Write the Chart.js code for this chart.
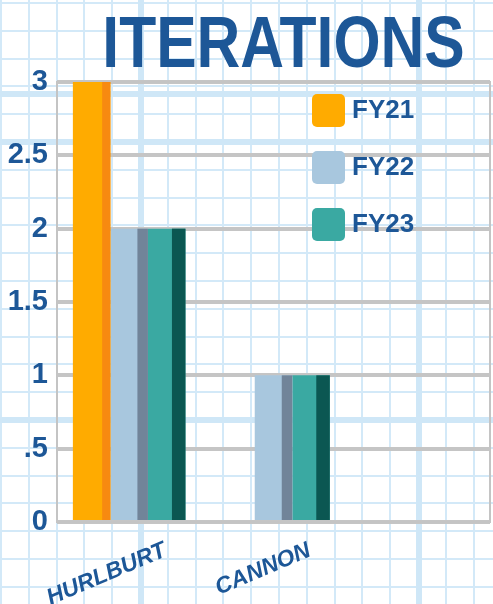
<!DOCTYPE html>
<html>
<head>
<meta charset="utf-8">
<script src="https://cdn.jsdelivr.net/npm/chart.js@4.4.1/dist/chart.umd.min.js"></script>
<style>
  html, body { margin: 0; padding: 0; }
  body {
    width: 493px; height: 604px; overflow: hidden;
    background-color: #fff;
    /* graph paper */
    background-image:
      repeating-linear-gradient(to right, #cfe7f7 0 6px, transparent 6px 278px),
      repeating-linear-gradient(to bottom, #cfe7f7 0 6px, transparent 6px 278px),
      repeating-linear-gradient(to right, #d3e9f8 0 2px, transparent 2px 27.8px),
      repeating-linear-gradient(to bottom, #d3e9f8 0 2px, transparent 2px 27.8px);
    background-position: 138px 0, 0 139px, 0 0, 0 2px;
  }
  #wrap { position: relative; width: 493px; height: 604px; }
</style>
</head>
<body>
<div id="wrap"><canvas id="chartJSContainer"></canvas></div>
<script>
var titleText = "ITERATIONS";
var categories = ["HURLBURT", "CANNON"];
var seriesNames = ["FY21", "FY22", "FY23"];
var fy21 = [3, 0];
var fy22 = [2, 1];
var fy23 = [2, 1];
var yTickLabels = ["0", ".5", "1", "1.5", "2", "2.5", "3"];

var textBlue = "#1d5797";

// darker right-hand strip on each bar (the pseudo 3D look)
var barShade = {
  id: "barShade",
  afterDatasetDraw: function (chart, args) {
    var ds = chart.data.datasets[args.index];
    var ctx = chart.ctx;
    ctx.save();
    ctx.fillStyle = ds.shadeColor;
    args.meta.data.forEach(function (bar) {
      var p = bar.getProps(["x", "y", "base", "width"], true);
      var w = p.width * ds.shadeFrac;
      ctx.fillRect(p.x + p.width / 2 - w, p.y, w, p.base - p.y);
    });
    ctx.restore();
  }
};

// light frame round the plot
var frame = {
  id: "frame",
  beforeDatasetsDraw: function (chart) {
    var a = chart.chartArea, ctx = chart.ctx;
    ctx.save();
    ctx.strokeStyle = "#c4c4c4";
    ctx.lineWidth = 2;
    ctx.strokeRect(a.left, a.top, a.right - a.left, a.bottom - a.top);
    ctx.restore();
  }
};

// condensed headline (no narrow font installed, so squeeze it)
var headline = {
  id: "headline",
  afterDraw: function (chart) {
    var a = chart.chartArea, ctx = chart.ctx;
    ctx.save();
    ctx.translate((a.left + a.right) / 2 + 10, a.top - 15);
    ctx.scale(0.83, 1);
    ctx.fillStyle = textBlue;
    ctx.font = "bold 73px 'Liberation Sans', Arial, sans-serif";
    ctx.textAlign = "center";
    ctx.textBaseline = "alphabetic";
    ctx.fillText(titleText, 0, 0);
    ctx.restore();
  }
};

// legend sits inside the plot, top right
var insideLegend = {
  id: "insideLegend",
  afterDraw: function (chart) {
    var a = chart.chartArea, ctx = chart.ctx;
    var x0 = a.left + 255, y0 = a.top + 28;
    ctx.save();
    chart.data.datasets.forEach(function (ds, i) {
      var y = y0 + i * 57;
      ctx.fillStyle = ds.backgroundColor;
      ctx.beginPath();
      ctx.roundRect(x0, y - 16, 33, 33, 5);
      ctx.fill();
      ctx.fillStyle = textBlue;
      ctx.font = "bold 26px 'Liberation Sans', Arial, sans-serif";
      ctx.textBaseline = "middle";
      ctx.textAlign = "left";
      ctx.fillText(ds.label, x0 + 40, y + 1);
    });
    ctx.restore();
  }
};

var options = {
  type: "bar",
  data: {
    labels: categories.concat([""]),
    datasets: [
      { label: seriesNames[0], data: fy21, backgroundColor: "#ffab00", shadeColor: "#f78a10", shadeFrac: 0.22 },
      { label: seriesNames[1], data: fy22, backgroundColor: "#a8c7de", shadeColor: "#718499", shadeFrac: 0.28 },
      { label: seriesNames[2], data: fy23, backgroundColor: "#3aa9a2", shadeColor: "#0b5752", shadeFrac: 0.36 }
    ]
  },
  options: {
    responsive: true,
    maintainAspectRatio: false,
    animation: false,
    categoryPercentage: 0.78,
    barPercentage: 1,
    layout: { padding: { left: 0, right: 3, top: 82, bottom: 0 } },
    plugins: {
      legend: { display: false },
      tooltip: { enabled: false },
      title: { display: false }
    },
    scales: {
      x: {
        grid: { display: false, drawTicks: false },
        border: { display: false },
        afterFit: function (s) { s.height = 82; s.paddingLeft = 0; s.paddingRight = 0; },
        ticks: {
          autoSkip: false,
          minRotation: 23,
          maxRotation: 23,
          labelOffset: 36,
          padding: 15,
          color: textBlue,
          font: { family: "'Liberation Sans', Arial, sans-serif", size: 23, weight: "bold", style: "italic" }
        }
      },
      y: {
        min: 0,
        max: 3,
        grid: { color: "#c5c5c5", lineWidth: 4, drawTicks: false },
        border: { display: false },
        afterFit: function (s) { s.width = 57; },
        ticks: {
          stepSize: 0.5,
          padding: 9,
          color: textBlue,
          font: { family: "'Liberation Sans', Arial, sans-serif", size: 29, weight: "bold" },
          callback: function (v) { return yTickLabels[Math.round(v * 2)]; }
        }
      }
    }
  },
  plugins: [frame, barShade, insideLegend, headline]
};

var ctx = document.getElementById("chartJSContainer").getContext("2d");
new Chart(ctx, options);
</script>
</body>
</html>
